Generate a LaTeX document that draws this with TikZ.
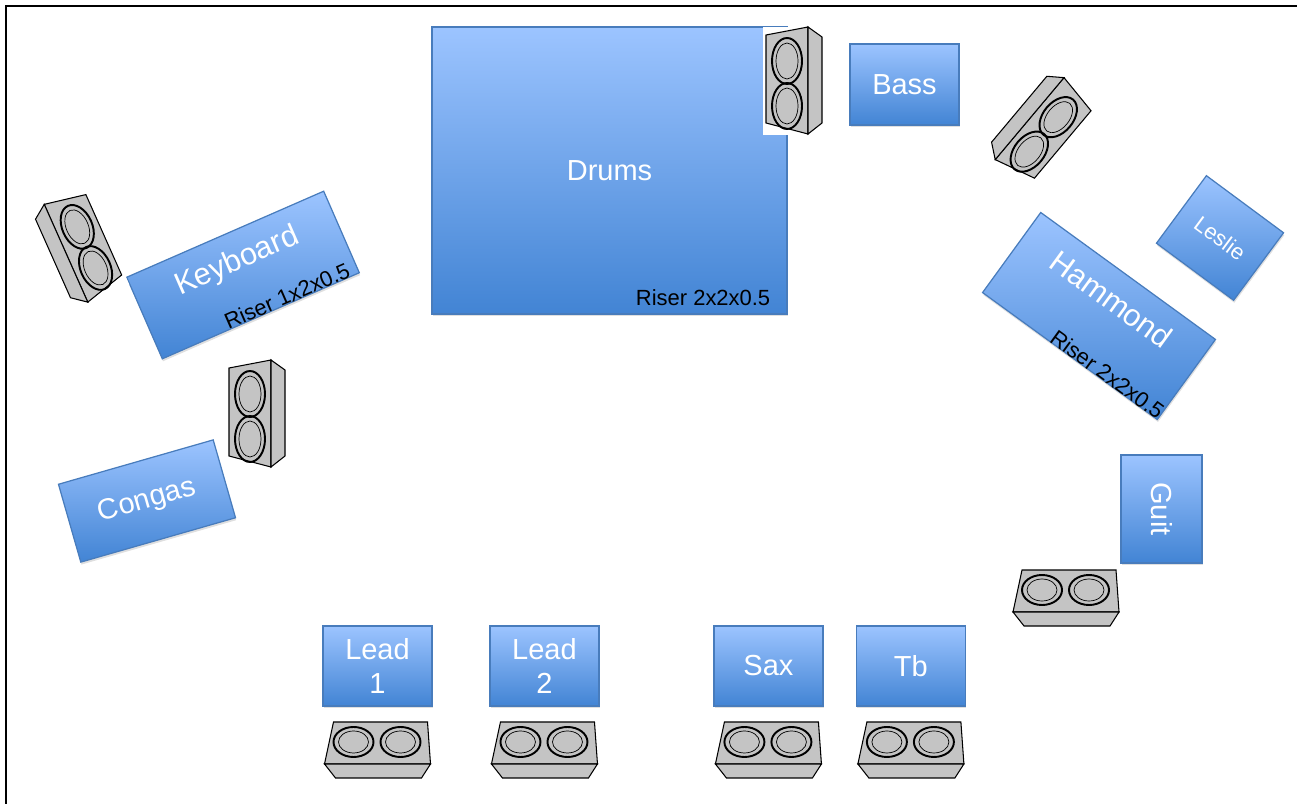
\documentclass[tikz,border=0pt]{standalone}
\usepackage{fontspec}
\setmainfont{Liberation Sans}
\usetikzlibrary{calc,shadows}
\definecolor{boxtop}{RGB}{156,196,255}
\definecolor{boxbot}{RGB}{66,132,212}
\definecolor{boxline}{RGB}{72,124,188}
\definecolor{cabgray}{RGB}{196,196,196}
\tikzset{
    block/.style = {draw=boxline, line width=0.7pt,
        top color=boxtop, bottom color=boxbot,
        text=white, font=\fontsize{16.5}{19}\selectfont,
        align=center, inner sep=0pt,
        drop shadow={shadow xshift=0.4pt, shadow yshift=-1.4pt, opacity=0.25}},
    stand/.style = {block, minimum width=2.18cm, minimum height=1.6cm},
    boxlabel/.style = {text=white, font=\fontsize{17.5}{20}\selectfont, inner sep=0pt},
    riser/.style = {text=black, font=\fontsize{12.5}{14}\selectfont, inner sep=0pt},
    cabside/.style = {draw, fill=cabgray, line width=0.6pt},
    cone/.style = {draw, line width=1.1pt},
    ring/.style = {draw, line width=0.4pt},
    cab/.pic = {
        \fill[white] (-31,-54) rectangle (30,54);
        \draw[cabside] (-28,-46) -- (14,-54) -- (14,53) -- (-28,42) -- cycle;
        \draw[cabside] (14,-54) -- (28,-44) -- (28,42) -- (14,53) -- cycle;
        \foreach \cy in {-20,25} {
            \draw[cone] (-7,\cy) ellipse [x radius=15, y radius=23];
            \draw[ring] (-7,\cy) ellipse [x radius=11, y radius=18];
        }
    },
    wedge/.pic = {
        \draw[cabside] (-44,-26) -- (50,-26) -- (53,16) -- (-53,16) -- cycle;
        \draw[cabside] (-53,16) -- (-42,30) -- (44,30) -- (53,16) -- cycle;
        \foreach \cx in {-24,23} {
            \draw[cone] (\cx,-6) ellipse [x radius=20, y radius=15];
            \draw[ring] (\cx,-6) ellipse [x radius=15, y radius=11];
        }
    }
}
\begin{document}
\begin{tikzpicture}[x=0.02cm, y=-0.02cm, node distance=2cm]
    \useasboundingbox (0,0) rectangle (1297,804);
    \draw[line width=1.2pt] (1297,6) -- (6,6) -- (6,804);
    \node [block, minimum width=7.1cm, minimum height=5.74cm] (drums) at (609.5,170.5) {Drums};
    \node [riser, anchor=south east] (drumsriser) at ([xshift=-0.34cm, yshift=0.18cm]drums.south east) {Riser 2x2x0.5};
    \node [block, minimum width=2.18cm, minimum height=1.62cm] (bass) at (904.5,84.5) {Bass};
    \node [block, minimum width=4.3cm, minimum height=1.78cm, rotate=23.6] (keys) at (243,275) {};
    \node [boxlabel, rotate=23.6] (keyslabel) at ($(keys.center)!0.32!(keys.north)$) {Keyboard};
    \node [riser, rotate=23.6, anchor=south east] (keysriser) at ($(keys.south east)!0.04!(keys.south west)$) {Riser 1x2x0.5};
    \node [block, minimum width=3.22cm, minimum height=1.62cm, rotate=16] (congas) at (147,501) {Congas};
    \node [block, minimum width=1.92cm, minimum height=1.68cm, rotate=-36.5, font=\fontsize{12.5}{14}\selectfont] (leslie) at (1220,238) {Leslie};
    \node [block, minimum width=4.32cm, minimum height=1.98cm, rotate=-36] (hammond) at (1099,316) {};
    \node [boxlabel, rotate=-36] (hammondlabel) at ($(hammond.center)!0.42!(hammond.north)$) {Hammond};
    \node [riser, rotate=-36, anchor=base east] (hammondriser) at (hammond.south east) {Riser 2x2x0.5};
    \node [block, minimum width=2.16cm, minimum height=1.62cm, rotate=-90] (guit) at (1161.5,509) {Guit};
    \node [stand] (lead1) at (377.5,666) {Lead\\1};
    \node [stand, right of=lead1, node distance=3.34cm] (lead2) {Lead\\2};
    \node [stand, right of=lead2, node distance=4.48cm] (sax) {Sax};
    \node [stand, right of=sax, node distance=2.85cm] (tb) {Tb};
    \pic (drumscab) at (794,81) {cab};
    \pic [rotate=24, xscale=-1] (keyscab) at (79,248) {cab};
    \pic (congascab) at (257,414) {cab};
    \pic [rotate=-40, xscale=-1] (basscab) at (1040,128) {cab};
    \pic (guitmon) at (1066,596) {wedge};
    \pic (lead1mon) at ([yshift=-1.64cm]lead1.center) {wedge};
    \pic (lead2mon) at ([yshift=-1.64cm]lead2.center) {wedge};
    \pic (saxmon) at ([yshift=-1.64cm]sax.center) {wedge};
    \pic (tbmon) at ([yshift=-1.64cm]tb.center) {wedge};
\end{tikzpicture}
\end{document}
